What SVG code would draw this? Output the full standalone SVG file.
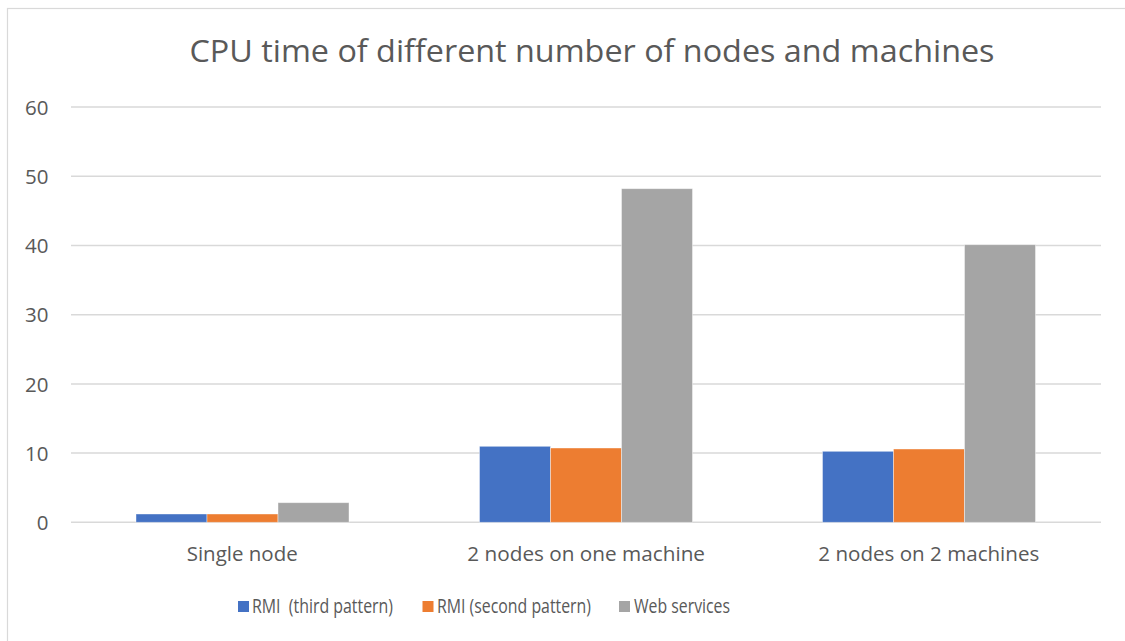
<svg xmlns="http://www.w3.org/2000/svg" width="1125" height="641" viewBox="0 0 1125 641">
  <style>
    .lbl { font-family: "Open Sans", "Liberation Sans", sans-serif; fill: #595959; font-size: 20.5px; }
    .num { font-family: "Open Sans", "Liberation Sans", sans-serif; fill: #595959; font-size: 20.5px; text-anchor: end; }
    .title { font-family: "Open Sans", "Liberation Sans", sans-serif; fill: #595959; font-size: 31px; }
    .grid { stroke: #d9d9d9; stroke-width: 1.5; }
    .s1 { fill: #4472c4; }
    .s2 { fill: #ed7d31; }
    .s3 { fill: #a5a5a5; }
    .bar { stroke: #ffffff; stroke-opacity: 0.5; stroke-width: 0.8; }
  </style>
  <rect width="1125" height="641" fill="#ffffff"/>
  <rect x="7.5" y="8.5" width="1130" height="640" fill="none" stroke="#d9d9d9" stroke-width="1.2"/>

  <text class="title" x="592" y="62" text-anchor="middle" textLength="805" lengthAdjust="spacingAndGlyphs">CPU time of different number of nodes and machines</text>

  <!-- gridlines and value axis -->
  <g id="axis">
    <line class="grid" x1="71" y1="107.1" x2="1101" y2="107.1"/>
    <line class="grid" x1="71" y1="176.3" x2="1101" y2="176.3"/>
    <line class="grid" x1="71" y1="245.5" x2="1101" y2="245.5"/>
    <line class="grid" x1="71" y1="314.7" x2="1101" y2="314.7"/>
    <line class="grid" x1="71" y1="383.9" x2="1101" y2="383.9"/>
    <line class="grid" x1="71" y1="453.1" x2="1101" y2="453.1"/>
    <line class="grid" x1="71" y1="522.3" x2="1101" y2="522.3"/>
    <text class="num" x="48.5" y="115">60</text>
    <text class="num" x="48.5" y="184">50</text>
    <text class="num" x="48.5" y="253">40</text>
    <text class="num" x="48.5" y="322">30</text>
    <text class="num" x="48.5" y="392">20</text>
    <text class="num" x="48.5" y="461">10</text>
    <text class="num" x="48.5" y="530">0</text>
  </g>

  <!-- Single node -->
  <g id="single-node">
    <rect class="bar s1" x="136" y="514" width="71" height="8.3"/>
    <rect class="bar s2" x="207" y="514" width="71" height="8.3"/>
    <rect class="bar s3" x="278" y="502.7" width="71" height="19.6"/>
    <text class="lbl" x="186.7" y="561" textLength="111" lengthAdjust="spacingAndGlyphs">Single node</text>
  </g>

  <!-- 2 nodes on one machine -->
  <g id="two-nodes-one-machine">
    <rect class="bar s1" x="479.5" y="446.3" width="71" height="76"/>
    <rect class="bar s2" x="550.5" y="448" width="71" height="74.3"/>
    <rect class="bar s3" x="621.5" y="188.7" width="71" height="333.6"/>
    <text class="lbl" x="467.3" y="561" textLength="237.7" lengthAdjust="spacingAndGlyphs">2 nodes on one machine</text>
  </g>

  <!-- 2 nodes on 2 machines -->
  <g id="two-nodes-two-machines">
    <rect class="bar s1" x="822.5" y="451.3" width="71" height="71"/>
    <rect class="bar s2" x="893.5" y="449" width="71" height="73.3"/>
    <rect class="bar s3" x="964.5" y="244.7" width="71" height="277.6"/>
    <text class="lbl" x="818.3" y="561" textLength="221" lengthAdjust="spacingAndGlyphs">2 nodes on 2 machines</text>
  </g>

  <!-- legend -->
  <g id="legend">
    <rect class="s1" x="238" y="601" width="11" height="11"/>
    <text class="lbl" x="252" y="613" xml:space="preserve" textLength="141" lengthAdjust="spacingAndGlyphs">RMI  (third pattern)</text>
    <rect class="s2" x="422.5" y="601" width="11" height="11"/>
    <text class="lbl" x="437" y="613" textLength="154" lengthAdjust="spacingAndGlyphs">RMI (second pattern)</text>
    <rect class="s3" x="619" y="601" width="11" height="11"/>
    <text class="lbl" x="634" y="613" textLength="96" lengthAdjust="spacingAndGlyphs">Web services</text>
  </g>
</svg>
